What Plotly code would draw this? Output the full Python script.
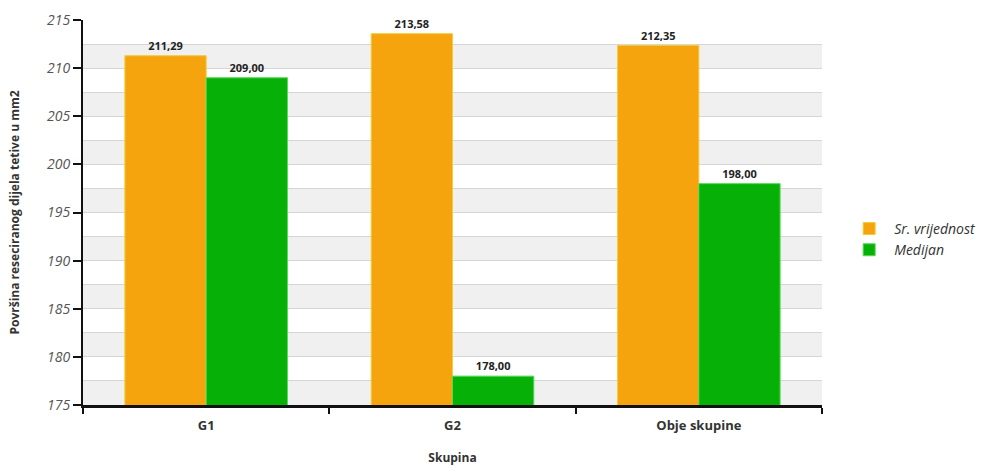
import plotly.graph_objects as go

categories = ["G1", "G2", "Obje skupine"]
mean_vals = [211.29, 213.58, 212.35]
median_vals = [209.00, 178.00, 198.00]
series_names = ["Sr. vrijednost", "Medijan"]
y_ticks = [175, 180, 185, 190, 195, 200, 205, 210, 215]

def fmt(v):
    return f"{v:.2f}".replace(".", ",")

label_font = dict(family="Open Sans", size=11, color="#222", weight="bold")

fig = go.Figure()
fig.add_trace(go.Bar(
    x=categories, y=mean_vals, name=series_names[0],
    marker=dict(color="#F6A40E", line=dict(color="#F2CC3A", width=1)),
    text=[fmt(v) for v in mean_vals], textposition="outside",
    textfont=label_font, cliponaxis=False,
))
fig.add_trace(go.Bar(
    x=categories, y=median_vals, name=series_names[1],
    marker=dict(color="#07B007", line=dict(color="#55DA55", width=1)),
    text=[fmt(v) for v in median_vals], textposition="outside",
    textfont=label_font, cliponaxis=False,
))

# alternating background bands
shapes = []
lo, hi = y_ticks[0], y_ticks[-1]
v = lo
while v < hi:
    shapes.append(dict(type="rect", xref="paper", yref="y", x0=0, x1=1, y0=v, y1=v + 2.5,
                       fillcolor="#F0F0F0", line=dict(width=0), layer="below"))
    v += 5
fig.update_layout(shapes=shapes)

fig.update_layout(
    width=999, height=466,
    margin=dict(l=83, r=177, t=20, b=61, autoexpand=False),
    paper_bgcolor="white", plot_bgcolor="white",
    barmode="group", bargap=0.34, bargroupgap=0,
    font=dict(family="Open Sans", color="#333"),
    legend=dict(x=1.03, y=0.43, xanchor="left", yanchor="middle",
                font=dict(family="Open Sans", size=14, color="#333", style="italic"),
                itemwidth=40, tracegroupgap=0),
    showlegend=True,
)
fig.update_yaxes(
    range=[175, 215], tickvals=y_ticks, automargin=False,
    tickfont=dict(family="Open Sans", size=14, color="#555", style="italic"),
    showline=True, linecolor="#111", linewidth=2,
    ticks="outside", ticklen=8, tickcolor="#111", tickwidth=2,
    showgrid=True, gridcolor="#D6D6D6", gridwidth=1,
    minor=dict(dtick=2.5, showgrid=True, gridcolor="#D6D6D6", gridwidth=1),
    zeroline=False,
    title=dict(text="Površina reseciranog dijela tetive u mm2",
               font=dict(family="Open Sans", size=12, color="#333", weight="bold"), standoff=25),
)
fig.update_xaxes(
    automargin=False, ticklabelstandoff=6,
    tickfont=dict(family="Open Sans", size=13, color="#333", weight="bold"),
    showline=True, linecolor="#111", linewidth=3,
    ticks="outside", tickson="boundaries", ticklen=6, tickcolor="#111", tickwidth=2,
    title=dict(text="Skupina", font=dict(family="Open Sans", size=12, color="#333", weight="bold"), standoff=25),
)

fig.write_html("out.html", config={"displayModeBar": False},
               post_script="document.body.style.margin='0';")
